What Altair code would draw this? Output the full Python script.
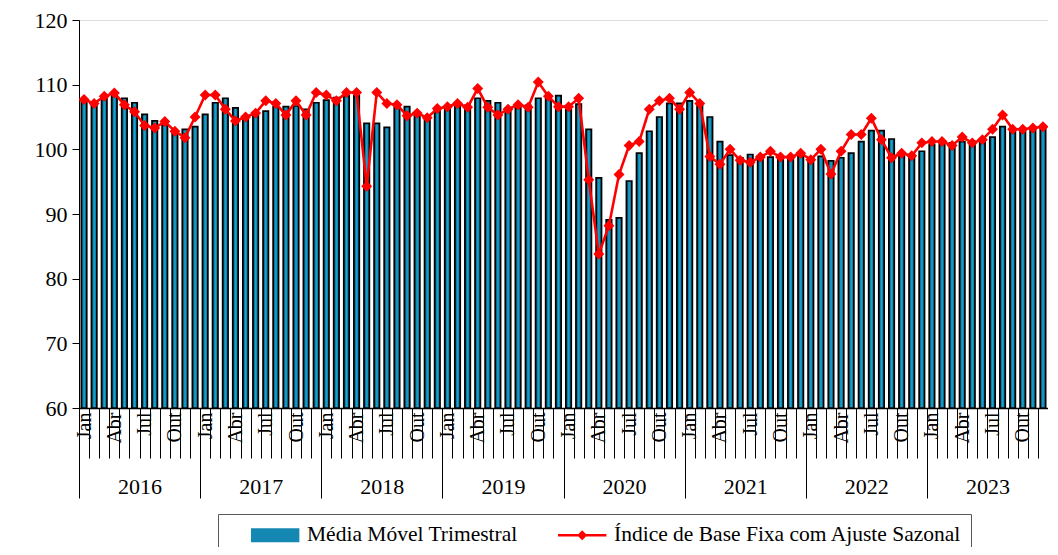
import json
import altair as alt
import pandas as pd

# ---------------- data ----------------
years = [2016, 2017, 2018, 2019, 2020, 2021, 2022, 2023]
months_pt = ["Jan", "Fev", "Mar", "Abr", "Mai", "Jun", "Jul", "Ago", "Set", "Out", "Nov", "Dez"]
month_tick_labels = ["Jan", "", "", "Abr", "", "", "Jul", "", "", "Out", "", ""]
year_labels = [str(y) for y in years]

S1 = "Média Móvel Trimestral"
S2 = "Índice de Base Fixa com Ajuste Sazonal"

media_movel = [
    107.5, 107.3, 108.0, 108.3, 107.9, 107.2, 105.4, 104.4, 103.8, 102.8, 103.1, 103.5,  # 2016
    105.4, 107.2, 107.9, 106.4, 104.8, 105.3, 105.9, 106.6, 106.6, 106.7, 106.2, 107.2,  # 2017
    107.6, 108.0, 108.3, 108.3, 104.0, 104.0, 103.4, 106.6, 106.6, 105.6, 105.1, 106.0,  # 2018
    106.3, 106.8, 106.8, 107.9, 107.5, 107.2, 106.3, 106.4, 106.8, 107.9, 107.9, 108.3,  # 2019
    106.1, 107.0, 103.1, 95.6, 89.1, 89.4, 95.1, 99.4, 102.8, 105.0, 107.1, 107.1,       # 2020
    107.5, 107.0, 105.0, 101.2, 99.1, 98.7, 99.2, 98.9, 98.8, 98.9, 99.0, 99.0,         # 2021
    98.7, 98.9, 98.2, 98.7, 99.4, 101.2, 102.9, 102.9, 101.6, 99.2, 98.9, 99.7,         # 2022
    100.7, 101.1, 101.0, 101.2, 101.2, 101.5, 101.9, 103.5, 103.0, 103.2, 103.1, 103.3,  # 2023
]

indice = [
    107.7, 107.1, 108.2, 108.7, 106.9, 105.8, 103.7, 103.3, 104.3, 102.8, 101.8, 105.0,  # 2016
    108.4, 108.4, 106.2, 104.4, 105.0, 105.6, 107.5, 107.1, 105.3, 107.5, 105.3, 108.8,  # 2017
    108.4, 107.5, 108.8, 108.8, 94.3, 108.8, 107.1, 106.9, 105.2, 105.6, 104.9, 106.3,   # 2018
    106.6, 107.1, 106.5, 109.4, 106.5, 105.3, 106.2, 106.9, 106.5, 110.4, 108.2, 106.6,  # 2019
    106.6, 107.9, 95.3, 83.8, 88.2, 96.1, 100.6, 101.2, 106.2, 107.5, 107.9, 106.2,      # 2020
    108.8, 107.1, 98.9, 97.7, 100.0, 98.3, 98.0, 98.8, 99.7, 98.8, 98.8, 99.4,          # 2021
    98.4, 100.0, 96.2, 99.7, 102.3, 102.3, 104.8, 101.5, 98.7, 99.4, 99.0, 101.0,       # 2022
    101.2, 101.2, 100.6, 101.9, 101.0, 101.5, 103.1, 105.3, 103.1, 103.1, 103.3, 103.5,  # 2023
]

N = len(indice)
rows = []
for k in range(N):
    rows.append({
        "pos": k + 0.5,
        "mes": months_pt[k % 12],
        "ano": years[k // 12],
        "mm": media_movel[k],
        "ind": indice[k],
    })
df = pd.DataFrame(rows)

# ---------------- style ----------------
W, H = 969, 388
FONT = "Liberation Serif"
RED = "#FF0000"
BAR_FILL = {
    "gradient": "linear", "x1": 0, "x2": 1, "y1": 0, "y2": 0,
    "stops": [
        {"offset": 0, "color": "#053E52"},
        {"offset": 0.5, "color": "#17A6D6"},
        {"offset": 1, "color": "#075C7A"},
    ],
}
month_w = W / N

xscale = alt.Scale(domain=[0, N], nice=False, zero=False, padding=0)
yscale = alt.Scale(domain=[60, 120], nice=False, zero=False, padding=0)

y_axis = alt.Axis(
    values=[60, 70, 80, 90, 100, 110, 120], title=None, grid=False,
    labelFont=FONT, labelFontSize=22, labelColor="black", labelPadding=5,
    tickColor="black", tickSize=7, domainColor="black", domainWidth=1,
)

month_tick_axis = alt.Axis(
    orient="bottom", values=list(range(N + 1)), tickSize=50, tickColor="black",
    tickWidth=1, labels=False, title=None, grid=False, domain=True,
    domainColor="black", domainWidth=1.5,
)

month_label_axis = alt.Axis(
    orient="bottom", values=[k + 0.5 for k in range(N)], ticks=False, tickSize=0,
    domain=False, grid=False, title=None,
    labelExpr=f"{json.dumps(month_tick_labels)}[floor(datum.value) % 12]",
    labelAngle=-90, labelFont=FONT, labelFontSize=20, labelColor="black",
    labelPadding=4, labelOverlap=False, labelFlush=False, labelBound=False,
)

year_axis = alt.Axis(
    orient="bottom", values=[12 * k for k in range(len(years) + 1)], tickSize=90,
    tickColor="black", tickWidth=1, domain=False, grid=False, title=None,
    labelExpr=f"datum.value < {N} ? {json.dumps(year_labels)}[round(datum.value / 12)] : ''",
    labelOffset=month_w * 6, labelPadding=-22, labelAngle=0, labelFont=FONT,
    labelFontSize=22, labelColor="black", labelOverlap=False, labelFlush=False,
    labelBound=False,
)

base = alt.Chart(df)

bars = base.mark_bar(size=5.4, stroke="black", strokeWidth=1.7, color=BAR_FILL, clip=True).encode(
    x=alt.X("pos:Q", scale=xscale, axis=month_tick_axis),
    y=alt.Y("mm:Q", scale=yscale, axis=y_axis),
    y2=alt.datum(60),
)

line = base.mark_line(color=RED, strokeWidth=2.6, clip=True).encode(
    x=alt.X("pos:Q", scale=xscale, axis=month_label_axis),
    y=alt.Y("ind:Q", scale=yscale, axis=y_axis),
)

points = base.mark_point(shape="diamond", filled=True, size=120, color=RED, opacity=1, clip=True).encode(
    x=alt.X("pos:Q", scale=xscale, axis=year_axis),
    y=alt.Y("ind:Q", scale=yscale, axis=y_axis),
)

# legend symbols: unit = sqrt(symbolSize)/2 = 11 px; drawn right of the symbol's layout box
RECT = "M1.09,-0.64H5.49V0.64H1.09Z"
LINEDIA = "M1.09,-0.12H5.49V0.12H1.09ZM3.29,-0.45L3.74,0L3.29,0.45L2.84,0Z"

legend = alt.Legend(
    orient="none", legendX=139, legendY=494, direction="horizontal", title=None,
    labelFont=FONT, labelFontSize=21.5, labelColor="black", labelOffset=56,
    symbolSize=484, symbolOpacity=1, symbolStrokeWidth=1.8,
    symbolStrokeColor={"expr": f"indexof(datum.label, 'Trimestral') >= 0 ? 'black' : 'transparent'"},
    strokeColor="#595959", padding=9, columnPadding=16, labelLimit=500,
)

leg_df = pd.DataFrame({"serie": [S1, S2]})
legend_layer = alt.Chart(leg_df).mark_point(filled=True, opacity=0).encode(
    shape=alt.Shape("serie:N", scale=alt.Scale(domain=[S1, S2], range=[RECT, LINEDIA]), legend=legend),
    color=alt.Color("serie:N", scale=alt.Scale(domain=[S1, S2], range=["#1488B3", RED]), legend=legend),
)

chart = (
    alt.layer(bars, line, points, legend_layer)
    .resolve_axis(x="independent")
    .properties(
        width=W, height=H,
        padding={"left": 71, "top": 12, "right": 0, "bottom": 139},
        autosize=alt.AutoSizeParams(type="none"),
    )
    .configure_view(stroke=None, fill="#FFFFC4")
    .configure(background="white")
)

chart.save("out.html", embed_options={"renderer": "svg", "actions": False})
